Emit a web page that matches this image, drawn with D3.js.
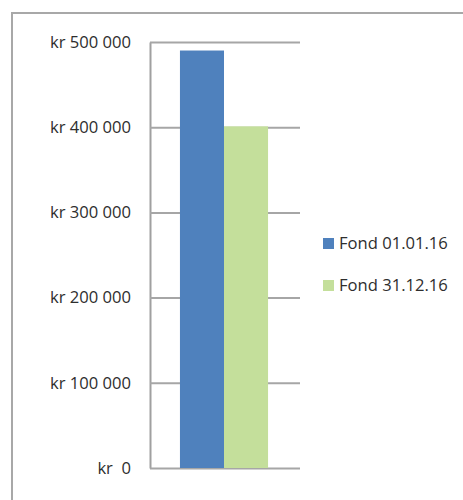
<!DOCTYPE html>
<html lang="en">
<head>
    <meta charset="utf-8">
    <script src="https://d3js.org/d3.v7.min.js"></script>
    <style>
        body { margin: 0; background: #fff; }
        text { font-family: "Open Sans", sans-serif; fill: #2e2e2e; }
    </style>
</head>
<body>
    <div id="graph"></div>
    <script>
        // data
        var seriesNames = ["Fond 01.01.16", "Fond 31.12.16"];
        var seriesValues = [490000, 401000];
        var seriesColors = ["#4f81bd", "#c4df9b"];
        var categories = [""];
        var yTicks = [0, 100000, 200000, 300000, 400000, 500000];

        var width = 463,
            height = 500;

        var svg = d3.select("#graph").append("svg")
            .attr("width", width)
            .attr("height", height);

        // chart frame (runs off the right / bottom edge)
        svg.append("rect")
            .attr("x", 12)
            .attr("y", 13)
            .attr("width", 470)
            .attr("height", 500)
            .attr("fill", "none")
            .attr("stroke", "#a8a8a8")
            .attr("stroke-width", 2);

        var plot = {left: 150, right: 300, top: 42, bottom: 468};

        var y = d3.scaleLinear()
            .domain([0, 500000])
            .range([plot.bottom, plot.top]);

        var x0 = d3.scaleBand()
            .domain(categories)
            .range([plot.left, plot.right])
            .paddingInner(0.26)
            .paddingOuter(0.26);

        var x1 = d3.scaleBand()
            .domain(seriesNames)
            .range([0, x0.bandwidth()]);

        var nf = d3.formatLocale({decimal: ",", thousands: " ", grouping: [3], currency: ["", ""]}).format(",d");

        // gridlines + labels (drawn first so bars sit on top)
        var yAxis = d3.axisLeft(y)
            .tickValues(yTicks)
            .tickSizeInner(-(plot.right - plot.left))
            .tickSizeOuter(0)
            .tickPadding(19)
            .tickFormat(function(d) { return d === 0 ? "kr\u00a0\u00a00" : "kr " + nf(d); });

        var gy = svg.append("g")
            .attr("transform", "translate(" + plot.left + ",0)")
            .call(yAxis);

        gy.selectAll(".tick line")
            .attr("stroke", "#a6a6a6")
            .attr("stroke-width", 2);
        gy.select(".domain")
            .attr("stroke", "#a0a0a0")
            .attr("stroke-width", 2);
        gy.selectAll(".tick text")
            .attr("fill", "#2e2e2e")
            .style("font-size", "16.6px")
            .style("font-family", "'Open Sans', sans-serif");

        // bars
        var data = seriesNames.map(function(s, i) {
            return {name: s, value: seriesValues[i], color: seriesColors[i]};
        });

        svg.append("g")
            .attr("transform", "translate(" + x0(categories[0]) + ",0)")
            .selectAll("rect")
            .data(data)
            .enter().append("rect")
            .attr("x", d => x1(d.name) - 1)
            .attr("width", x1.bandwidth())
            .attr("y", d => y(d.value))
            .attr("height", d => y(0) - y(d.value))
            .attr("fill", d => d.color);

        // legend
        var legend = svg.append("g")
            .attr("transform", "translate(323,238)")
            .selectAll("g")
            .data(data)
            .enter().append("g")
            .attr("transform", (d, i) => "translate(0," + (i * 42) + ")");

        legend.append("rect")
            .attr("width", 11)
            .attr("height", 11)
            .attr("fill", d => d.color);

        legend.append("text")
            .attr("x", 16)
            .attr("y", 11)
            .style("font-size", "16.6px")
            .text(d => d.name);
    </script>
</body>
</html>
